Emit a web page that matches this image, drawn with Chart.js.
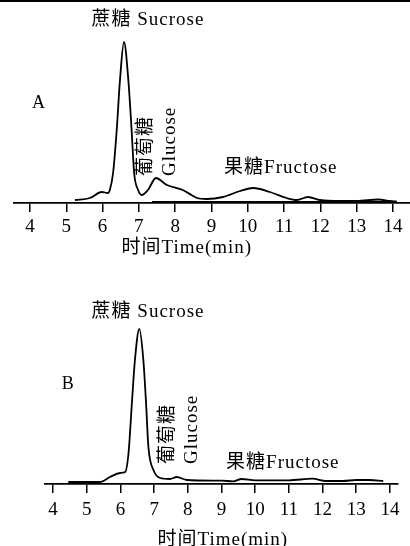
<!DOCTYPE html>
<html lang="zh">
<head>
    <meta charset="UTF-8">
    <title>HPLC chromatograms</title>
    <script src="https://cdn.jsdelivr.net/npm/chart.js@4.4.1/dist/chart.umd.min.js"></script>
    <style>
        body {
            margin: 0;
            background: #fff;
        }
        #page {
            position: relative;
            width: 410px;
            height: 546px;
            overflow: hidden;
            background: #fff;
        }
        #topRule {
            position: absolute;
            left: 0;
            top: 0;
            width: 410px;
            height: 2px;
            background: #000;
            z-index: 2;
        }
        canvas {
            position: absolute;
            left: 0;
        }
        #chartA { top: 0; }
        #chartB { top: 260px; }
    </style>
</head>
<body>
<div id="page">
    <div id="topRule"></div>
    <canvas id="chartA" width="410" height="260"></canvas>
    <canvas id="chartB" width="410" height="286"></canvas>
</div>

<script>
    // Sample A: retention time (min) and detector signal (arbitrary units)
    const timeA = [5.24, 5.65, 5.98, 6.15, 6.20, 6.29, 6.39, 6.48, 6.59, 6.71, 6.80, 6.87, 6.98, 7.08,
                   7.25, 7.47, 7.77, 8.21, 8.45, 8.60, 8.87, 9.32, 9.79, 10.15, 10.61, 11.07, 11.35,
                   11.66, 11.99, 12.54, 13.0, 13.6, 13.92, 14.1];
    const signalA = [3, 5, 11, 10, 13, 30, 73, 123, 161, 123, 73, 30, 13, 8,
                     13, 25, 18, 13, 8, 5, 4, 6, 12, 15, 11, 5, 3,
                     6, 3, 2, 2, 3.5, 2, 1.5];
    // faint baseline trace under panel A
    const baseTimeA = [7.36, 14.1];
    const baseSignalA = [1.5, 1.5];

    // Sample B
    const timeB = [4.45, 5.39, 5.69, 5.99, 6.14, 6.24, 6.34, 6.43, 6.56, 6.68, 6.76, 6.83, 6.98, 7.18,
                   7.47, 7.67, 7.97, 9.0, 9.35, 9.6, 10.0, 11.0, 11.7, 12.1, 12.6, 13.0, 13.4, 13.8];
    const signalB = [2, 2, 7, 11, 12, 31, 81, 124, 155, 124, 81, 37, 14, 6,
                     5, 7, 4, 3.3, 2.7, 5, 3.7, 3.7, 5.3, 3, 3, 4, 4, 3];

    const axisTitle = '时间Time(min)';
    const peakNames = ['蔗糖 Sucrose', '葡萄糖', 'Glucose', '果糖Fructose'];

    const serif = '"Liberation Serif", "Times New Roman", "Noto Sans CJK SC", serif';
    const labelFont = '19px ' + serif;

    // where each text sits, in chart coordinates (time, signal)
    const textA = [
        { text: peakNames[0], x: 7.25, y: 183 },
        { text: 'A', x: 4.25, y: 100, font: '18px ' + serif },
        { text: peakNames[1], x: 7.20, y: 27, rotate: true },
        { text: peakNames[2], x: 7.86, y: 27, rotate: true },
        { text: peakNames[3], x: 10.91, y: 35 },
        { text: axisTitle, x: 8.32, y: -45 }
    ];
    const textB = [
        { text: peakNames[0], x: 6.82, y: 172 },
        { text: 'B', x: 4.45, y: 100, font: '18px ' + serif },
        { text: peakNames[1], x: 7.41, y: 20, rotate: true },
        { text: peakNames[2], x: 8.12, y: 20, rotate: true },
        { text: peakNames[3], x: 10.82, y: 21 },
        { text: axisTitle, x: 9.04, y: -56 }
    ];

    function toPoints(xs, ys) {
        return xs.map((t, i) => ({ x: t, y: ys[i] }));
    }

    // draws peak names, panel letter and axis title
    const textLayer = {
        id: 'textLayer',
        afterDraw(chart, args, opts) {
            const ctx = chart.ctx;
            const xs = chart.scales.x, ys = chart.scales.y;
            ctx.save();
            ctx.fillStyle = '#000';
            ctx.textBaseline = 'middle';
            ctx.letterSpacing = '1px';
            opts.items.forEach(item => {
                ctx.save();
                ctx.translate(xs.getPixelForValue(item.x), ys.getPixelForValue(item.y));
                ctx.font = item.font || labelFont;
                if (item.rotate) {
                    ctx.rotate(-Math.PI / 2);
                    ctx.textAlign = 'left';
                } else {
                    ctx.textAlign = 'center';
                }
                ctx.fillText(item.text, 0, 0);
                ctx.restore();
            });
            ctx.restore();
        }
    };

    function makeChart(id, datasets, cfg) {
        return new Chart(document.getElementById(id), {
            type: 'line',
            data: { datasets: datasets },
            plugins: [textLayer],
            options: {
                responsive: false,
                animation: false,
                devicePixelRatio: 1,
                layout: { padding: { left: cfg.left, right: cfg.right, top: 0, bottom: 0 } },
                elements: {
                    point: { radius: 0 },
                    line: { borderColor: '#000', borderWidth: 1.8, cubicInterpolationMode: 'monotone' }
                },
                plugins: {
                    legend: { display: false },
                    tooltip: { enabled: false },
                    textLayer: { items: cfg.texts }
                },
                scales: {
                    x: {
                        type: 'linear',
                        min: cfg.xMin,
                        max: cfg.xMax,
                        afterFit: scale => { scale.height = cfg.axisHeight; },
                        border: { display: true, color: '#000', width: 1.8 },
                        grid: { drawOnChartArea: false, drawTicks: true, tickLength: 9, color: '#000', lineWidth: 1.5 },
                        ticks: {
                            stepSize: 1,
                            includeBounds: false,
                            maxRotation: 0,
                            autoSkip: false,
                            padding: cfg.tickPad,
                            color: '#000',
                            font: { family: serif, size: 19 }
                        }
                    },
                    y: {
                        display: false,
                        min: 0,
                        max: cfg.yMax
                    }
                }
            }
        });
    }

    makeChart('chartA', [
        { data: toPoints(timeA, signalA) },
        { data: toPoints(baseTimeA, baseSignalA), borderWidth: 1.2 }
    ], { left: 14, right: 0, xMin: 3.56, xMax: 14.47, yMax: 203, axisHeight: 57, tickPad: 4, texts: textA });

    makeChart('chartB', [
        { data: toPoints(timeB, signalB) }
    ], { left: 45, right: 12, xMin: 3.76, xMax: 14.24, yMax: 224, axisHeight: 62, tickPad: 6, texts: textB });
</script>
</body>
</html>
